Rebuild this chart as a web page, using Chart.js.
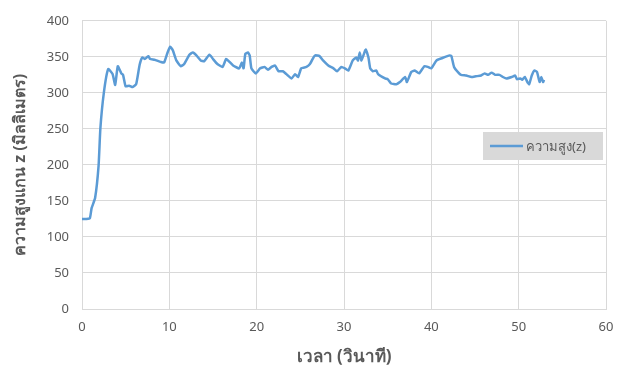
<!DOCTYPE html>
<html>
<head>
<meta charset="utf-8">
<script src="https://cdn.jsdelivr.net/npm/chart.js@4/dist/chart.umd.min.js"></script>
<style>
  html, body { margin: 0; padding: 0; background: #ffffff; }
  #wrap { width: 628px; height: 367px; }
</style>
</head>
<body>
<div id="wrap"><canvas id="c" width="628" height="367"></canvas></div>
<script>
// Time (seconds) and measured z-height (millimetres)
const timeSec = [
  0, 0.5, 0.9, 1.1, 1.5, 1.9, 2.1, 2.5, 3.0, 3.5, 3.8, 4.1, 4.5, 4.7, 5.0,
  5.4, 5.8, 6.2, 6.6, 6.9, 7.2, 7.4, 7.6, 7.8, 8.3, 9.0, 9.4, 9.8, 10.1, 10.4,
  10.8, 11.3, 11.7, 12.3, 12.7, 13.1, 13.6, 14.0, 14.6, 15.0, 15.5, 16.1, 16.5,
  16.8, 17.3, 18.0, 18.3, 18.5, 18.7, 19.0, 19.2, 19.4, 19.9, 20.4, 20.9, 21.3,
  21.7, 22.1, 22.5, 23.0, 23.4, 24.0, 24.4, 24.75, 25.1, 25.7, 26.1, 26.5, 26.7,
  27.2, 27.6, 28.2, 28.8, 29.2, 29.7, 30.1, 30.5, 31.0, 31.4, 31.6, 31.8, 32.0,
  32.4, 32.5, 32.8, 33.0, 33.3, 33.7, 33.9, 34.7, 35.0, 35.4, 36.0, 36.4, 37.0,
  37.2, 37.7, 38.1, 38.6, 39.2, 39.6, 40.0, 40.6, 41.2, 42.1, 42.3, 42.6, 43.1,
  43.4, 44.0, 44.6, 45.1, 45.7, 46.1, 46.5, 46.9, 47.3, 47.8, 48.2, 48.6, 49.2,
  49.6, 49.8, 50.2, 50.4, 50.7, 51.0, 51.2, 51.5, 51.8, 52.1, 52.4, 52.6, 52.8, 52.9
];
const heightMm = [
  125, 125, 126, 140, 154, 199, 250, 300, 333, 326, 311, 337, 327, 325, 309,
  310, 308, 312, 339, 349, 347, 349, 351, 347, 346, 343, 342, 356, 364, 359,
  345, 337, 340, 353, 356, 352, 345, 344, 353, 347, 340, 336, 347,
  344, 338, 334, 342, 334, 354, 356, 352, 334, 327, 334, 336, 332,
  336, 338, 330, 330, 326, 320, 326, 322, 334, 336, 340, 349, 352,
  351, 345, 338, 334, 330, 336, 334, 331, 345, 349, 345, 356, 345,
  358, 360, 349, 334, 330, 331, 326, 320, 319, 313, 312, 315, 322,
  315, 329, 331, 327, 337, 336, 334, 345, 348, 352, 351, 336, 328,
  325, 324, 322, 323, 324, 327, 325, 328, 325, 325, 322, 320, 322,
  324, 319, 320, 318, 322, 315, 312, 324, 331, 329, 315, 322, 315, 318
];
const xTicks = [0, 10, 20, 30, 40, 50, 60];
const yTicks = [0, 50, 100, 150, 200, 250, 300, 350, 400];

const seriesLabel = 'ความสูง(z)';
const lineColor = '#5b9bd5';
const textColor = '#595959';
const gridColor = '#d9d9d9';

const points = timeSec.map((t, i) => ({ x: t, y: heightMm[i] }));

// Legend box drawn inside the plot area on the right
const insideLegend = {
  id: 'insideLegend',
  afterDraw(chart) {
    const ctx = chart.ctx;
    const area = chart.chartArea;
    const boxW = 120, boxH = 28;
    const bx = area.right - boxW - 3, by = 132;
    ctx.save();
    ctx.fillStyle = '#d9d9d9';
    ctx.fillRect(bx, by, boxW, boxH);
    ctx.strokeStyle = lineColor;
    ctx.lineWidth = 2.5;
    ctx.beginPath();
    ctx.moveTo(bx + 7, by + boxH / 2);
    ctx.lineTo(bx + 40, by + boxH / 2);
    ctx.stroke();
    ctx.fillStyle = textColor;
    ctx.font = '13px "Noto Sans", sans-serif';
    ctx.textBaseline = 'middle';
    ctx.textAlign = 'left';
    ctx.fillText(chart.data.datasets[0].label, bx + 43, by + boxH / 2 + 1);
    ctx.restore();
  }
};

new Chart(document.getElementById('c'), {
  type: 'line',
  data: {
    datasets: [{
      label: seriesLabel,
      data: points,
      borderColor: lineColor,
      backgroundColor: lineColor,
      borderWidth: 2.5,
      pointRadius: 0,
      tension: 0.15,
      fill: false
    }]
  },
  options: {
    responsive: false,
    animation: false,
    devicePixelRatio: 1,
    layout: { padding: { top: 14, right: 22, bottom: 0, left: 0 } },
    plugins: { legend: { display: false }, tooltip: { enabled: false } },
    scales: {
      x: {
        type: 'linear',
        min: 0, max: 60,
        afterFit: s => { s.height = 58; },
        afterBuildTicks: s => { s.ticks = xTicks.map(v => ({ value: v })); },
        grid: { color: gridColor, drawTicks: false },
        border: { color: gridColor },
        ticks: { color: textColor, font: { size: 13, family: '"Noto Sans", sans-serif' }, padding: 10 },
        title: {
          display: true,
          text: 'เวลา (วินาที)',
          color: textColor,
          font: { size: 17, weight: 'bold', family: '"Noto Sans", sans-serif' },
          padding: { top: 0, bottom: 0 }
        }
      },
      y: {
        type: 'linear',
        min: 0, max: 400,
        afterFit: s => { s.width = 82; },
        afterBuildTicks: s => { s.ticks = yTicks.map(v => ({ value: v })); },
        grid: { color: gridColor, drawTicks: false },
        border: { display: false },
        ticks: { color: textColor, font: { size: 13, family: '"Noto Sans", sans-serif' }, padding: 13 },
        title: {
          display: true,
          text: 'ความสูงแกน z (มิลลิเมตร)',
          color: textColor,
          font: { size: 16, weight: 'bold', family: '"Noto Sans", sans-serif' },
          padding: { top: 11, bottom: 0 }
        }
      }
    }
  },
  plugins: [insideLegend]
});
</script>
</body>
</html>
